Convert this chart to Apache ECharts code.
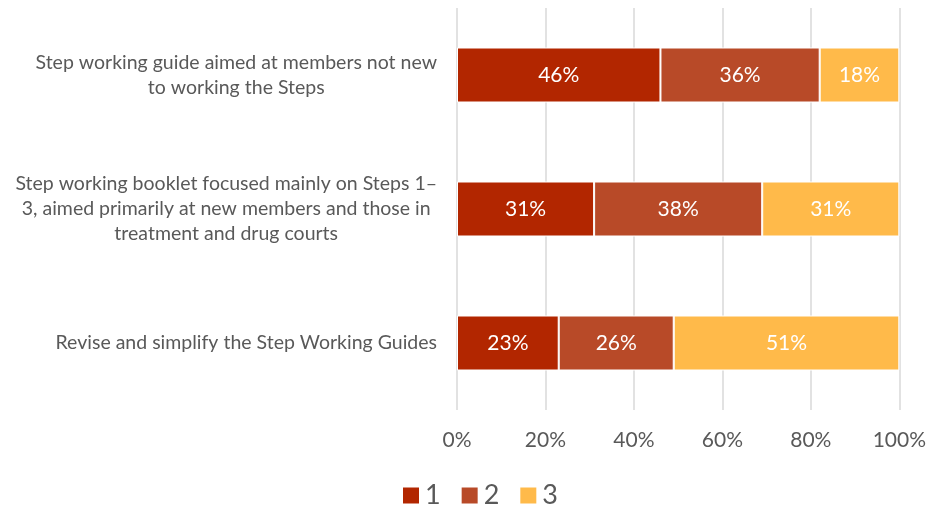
<!DOCTYPE html>
<html>
<head>
<meta charset="utf-8">
<script src="https://cdn.jsdelivr.net/npm/echarts@6/dist/echarts.min.js"></script>
<style>
  html, body { margin: 0; padding: 0; background: #fff; }
  #chart { width: 929px; height: 512px; }
</style>
</head>
<body>
<div id="chart"></div>
<script>
const categories = [
  'Step working guide aimed at members not new\nto working the Steps',
  'Step working booklet focused mainly on Steps 1–\n3, aimed primarily at new members and those in\ntreatment and drug courts',
  'Revise and simplify the Step Working Guides'
];
const seriesNames = ['1', '2', '3'];
const values1 = [46, 31, 23];
const values2 = [36, 38, 26];
const values3 = [18, 31, 51];
const xTicks = [0, 20, 40, 60, 80, 100];

const colors = ['#B22600', '#B84A28', '#FFBA4A'];
const font = 'Lato, "Open Sans", sans-serif';

const chart = echarts.init(document.getElementById('chart'));

function makeSeries(name, data, i) {
  return {
    name: name,
    type: 'bar',
    stack: 'total',
    data: data,
    barWidth: 55,
    itemStyle: { color: colors[i], borderColor: '#ffffff', borderWidth: 1 },
    label: {
      show: true,
      position: 'inside',
      formatter: p => p.value + '%',
      color: '#ffffff',
      fontSize: 21,
      fontFamily: font
    }
  };
}

chart.setOption({
  animation: false,
  color: colors,
  grid: { left: 457, right: 29, top: 8, bottom: 102 },
  xAxis: {
    type: 'value',
    min: xTicks[0],
    max: xTicks[xTicks.length - 1],
    interval: 20,
    axisLine: { show: false },
    axisTick: { show: false },
    splitLine: { show: true, lineStyle: { color: '#d9d9d9', width: 1.5 } },
    axisLabel: {
      formatter: v => v + '%',
      color: '#595959',
      fontSize: 21,
      fontFamily: font,
      margin: 20
    }
  },
  yAxis: {
    type: 'category',
    inverse: true,
    data: categories,
    axisLine: { show: false },
    axisTick: { show: false },
    axisLabel: {
      margin: 20,
      formatter: v => v.split('\n').map(s => '{c|' + s + '}').join('\n'),
      rich: {
        c: { align: 'center', color: '#595959', fontSize: 19.5, fontFamily: font, lineHeight: 25 }
      }
    }
  },
  legend: {
    bottom: -2,
    left: 396,
    icon: 'rect',
    itemWidth: 18,
    itemHeight: 18,
    itemGap: 19,
    textStyle: { color: '#595959', fontSize: 27, fontFamily: font },
    data: seriesNames
  },
  series: [
    makeSeries(seriesNames[0], values1, 0),
    makeSeries(seriesNames[1], values2, 1),
    makeSeries(seriesNames[2], values3, 2)
  ]
});
</script>
</body>
</html>
